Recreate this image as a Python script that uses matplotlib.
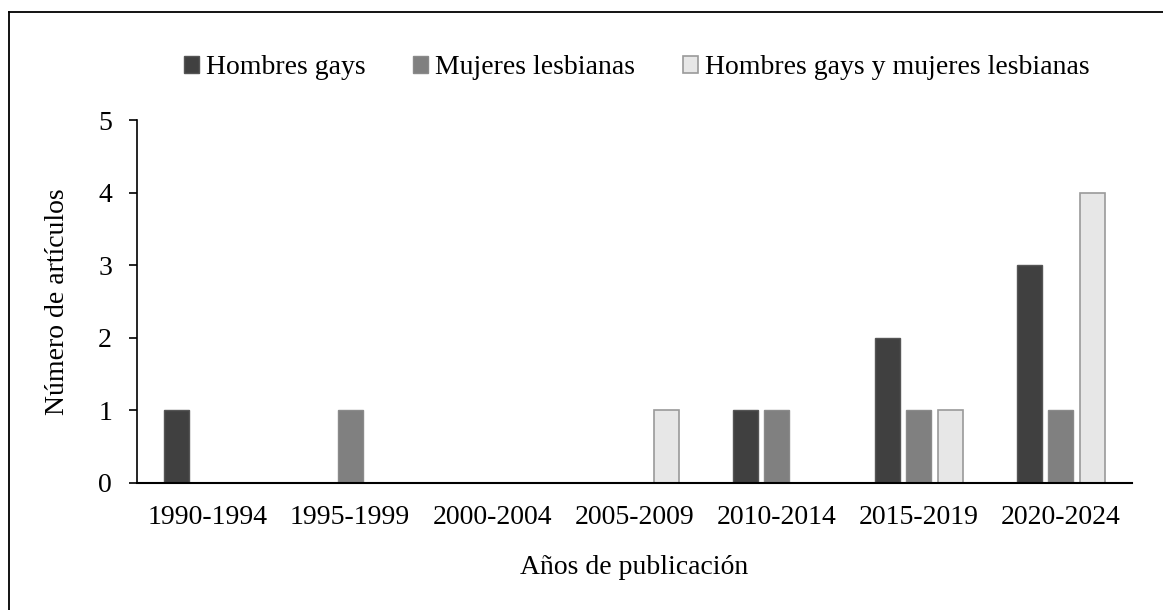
import matplotlib.pyplot as plt
import numpy as np
from matplotlib.lines import Line2D

# datos
periodos = ['1990-1994', '1995-1999', '2000-2004', '2005-2009', '2010-2014', '2015-2019', '2020-2024']
hombres = [1, 0, 0, 0, 1, 2, 3]
mujeres = [0, 1, 0, 0, 1, 1, 1]
ambos = [0, 0, 0, 1, 0, 1, 4]
series = ['Hombres gays', 'Mujeres lesbianas', 'Hombres gays y mujeres lesbianas']

plt.rcParams['font.family'] = ['Liberation Serif', 'DejaVu Serif']

W, H = 1163, 610
fig = plt.figure(figsize=(W / 100, H / 100), dpi=100)
ax = fig.add_axes([137 / W, 1 - 483 / H, (1132 - 137) / W, (483 - 120) / H])

x = np.arange(len(periodos))
w = 0.176
paso = 0.222
b1 = ax.bar(x - paso, hombres, w, color='#404040', edgecolor='#555555', linewidth=1)
b2 = ax.bar(x, mujeres, w, color='#808080', edgecolor='#8a8a8a', linewidth=1)
b3 = ax.bar(x + paso, ambos, w, color='#e7e7e7', edgecolor='#9a9a9a', linewidth=1.2)

ax.set_xlim(-0.5, len(periodos) - 0.5)
ax.set_ylim(0, 5)
ax.set_yticks(range(6))
ax.set_xticks(x)
ax.set_xticklabels(periodos)
ax.tick_params(axis='x', length=0, labelsize=20, pad=16)
ax.tick_params(axis='y', length=6, width=1.2, labelsize=20, pad=12, direction='out')
for s in ['top', 'right']:
    ax.spines[s].set_visible(False)
ax.spines['left'].set_linewidth(1.2)
ax.spines['bottom'].set_linewidth(1.5)

ax.set_xlabel('Años de publicación', fontsize=20, labelpad=18)
ax.set_ylabel('Número de artículos', fontsize=20, labelpad=20)

leg = ax.legend([b1, b2, b3], series, loc='center', bbox_to_anchor=(0.5475, 1 - 68 / H),
                bbox_transform=fig.transFigure, ncol=3, frameon=False, fontsize=20,
                handlelength=0.55, handleheight=0.55, handletextpad=0.25, columnspacing=1.7)

# marco de la figura (solo se ven los bordes izquierdo y superior)
fig.add_artist(Line2D([9 / W, 9 / W], [0, 1 - 12 / H], transform=fig.transFigure,
                      color='black', linewidth=1.3))
fig.add_artist(Line2D([9 / W, 1], [1 - 12 / H, 1 - 12 / H], transform=fig.transFigure,
                      color='black', linewidth=1.3))

fig.savefig('out.png', dpi=100)
